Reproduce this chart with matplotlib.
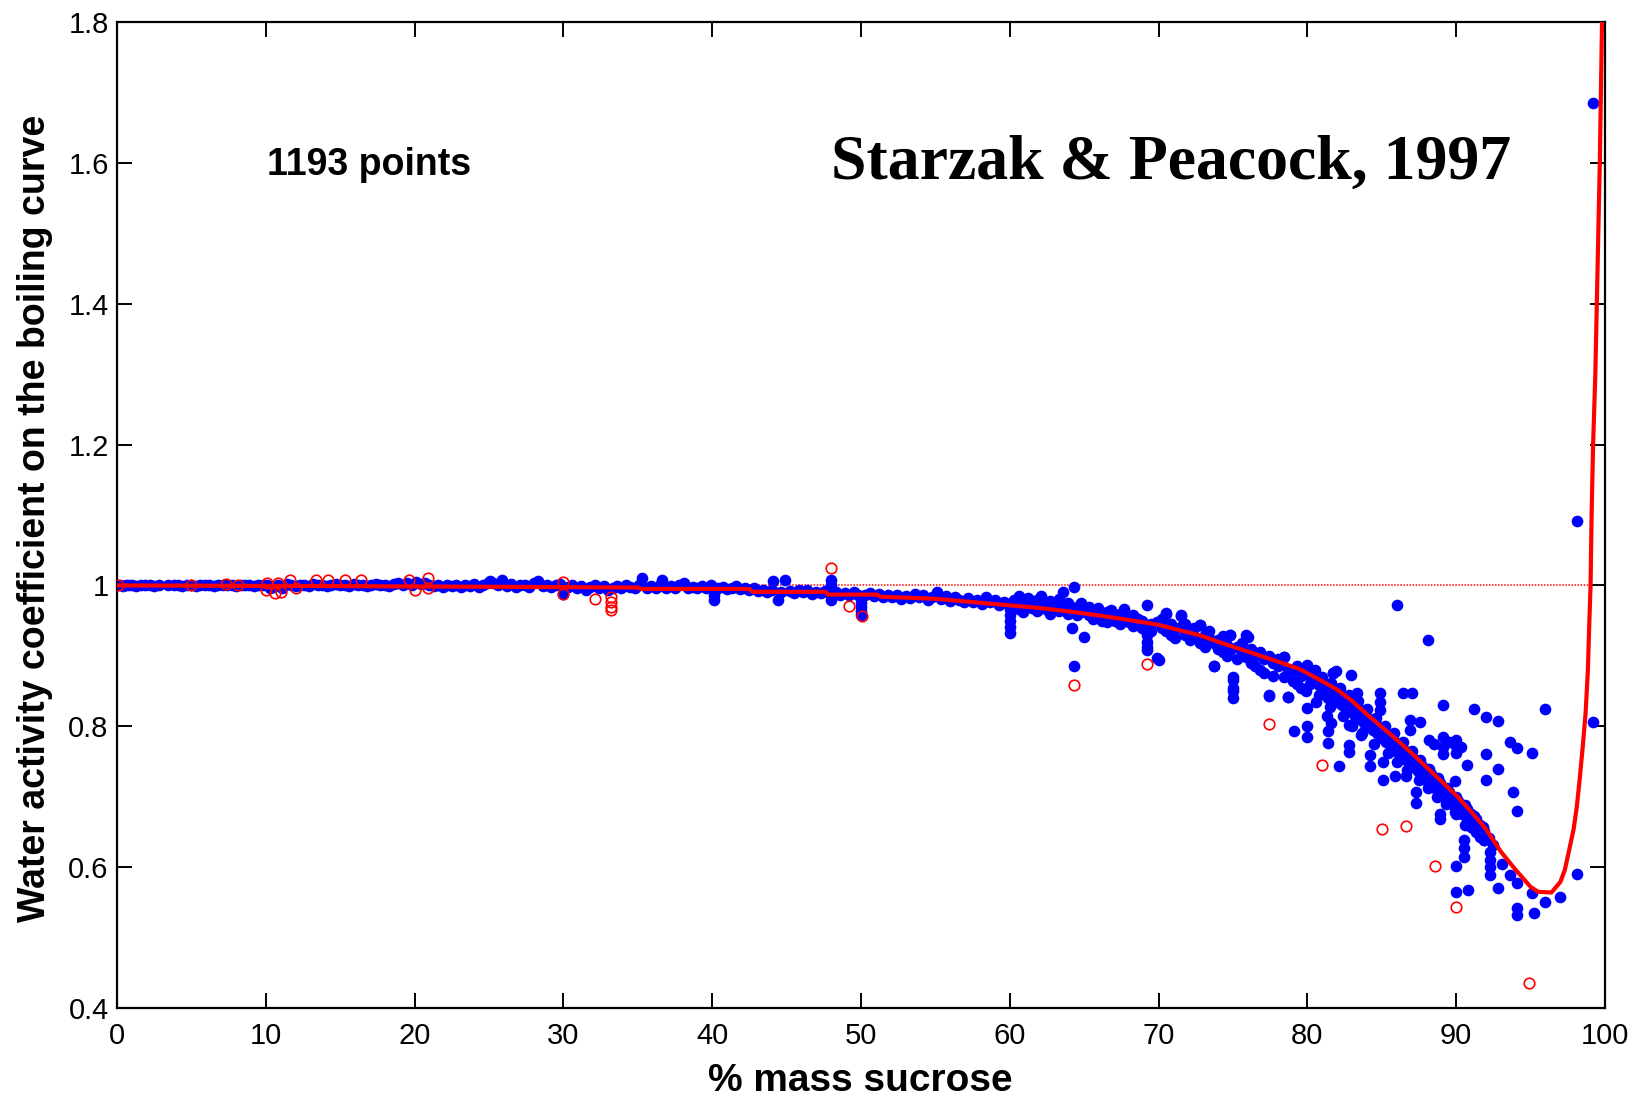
import matplotlib
matplotlib.use("Agg")
import matplotlib.pyplot as plt
from matplotlib.ticker import FixedLocator, FixedFormatter

# ---------------------------------------------------------------------------
# Model curve (Starzak & Peacock correlation on the boiling curve)
curve_sucrose = [0, 15, 26, 35, 35.2, 42.5, 42.7, 47.6, 47.8, 51.1, 51.3, 55,
                 59.3, 62, 64, 66.1, 68, 70, 72.8, 74, 76, 78, 79.5, 81, 82,
                 83, 84, 85, 86, 87, 88, 89, 90, 91, 92, 93, 94, 95, 95.5,
                 96.4, 97.0, 97.3, 97.6, 97.9, 98.1, 98.3, 98.5, 98.7, 98.85,
                 98.95, 99.03, 99.1, 99.2, 99.35, 99.5, 99.65, 99.8, 99.9]
curve_gamma = [1.0, 0.999, 0.998, 0.997, 0.995, 0.995, 0.991, 0.991, 0.987,
               0.987, 0.984, 0.981, 0.973, 0.968, 0.963, 0.957, 0.951, 0.944,
               0.929, 0.92, 0.906, 0.892, 0.881, 0.864, 0.852, 0.836, 0.817,
               0.799, 0.781, 0.762, 0.742, 0.722, 0.702, 0.679, 0.654, 0.622,
               0.596, 0.572, 0.565, 0.564, 0.579, 0.596, 0.625, 0.655, 0.685,
               0.725, 0.77, 0.82, 0.88, 0.95, 1.0, 1.1, 1.2, 1.3, 1.45, 1.6,
               1.8, 2.0]

# ---------------------------------------------------------------------------
# Experimental points (blue), dilute range 0-21 %
dilute_x = [0.0, 0.2, 0.4, 0.6, 0.8, 1.0, 1.3, 1.6, 1.9, 2.2, 2.5, 2.8,
            3.4, 3.8, 4.1, 4.4, 4.7, 5.0, 5.3, 5.6, 5.9, 6.2, 6.5, 6.8,
            7.1, 7.4, 7.7, 8.0, 8.3, 8.6, 8.9, 9.2, 9.5, 9.8, 10.1, 10.3,
            10.5, 10.8, 11.1, 11.4, 11.7, 12.0, 12.3, 12.6, 12.9, 13.2, 13.5, 13.8,
            14.1, 14.4, 14.7, 15.0, 15.3, 15.6, 15.9, 16.2, 16.5, 16.8, 17.1, 17.4,
            17.7, 18.0, 18.3, 18.6, 18.9, 19.2, 19.5, 19.8, 20.1, 20.4, 20.7, 21.0]
dilute_y = [1.000, 1.001, 0.999, 1.000, 1.000, 1.001, 0.999, 1.000, 1.000, 1.001, 0.999, 1.000,
            1.000, 1.000, 1.001, 0.999, 1.000, 1.000, 0.999, 1.001, 1.000, 1.000, 0.999, 1.001,
            1.000, 1.000, 1.001, 0.999, 1.000, 1.000, 1.001, 0.999, 1.000, 1.000, 1.001, 0.996,
            0.998, 1.000, 0.997, 1.002, 1.000, 0.999, 1.001, 1.000, 0.999, 1.002, 1.001, 1.000,
            0.999, 1.001, 1.002, 1.000, 1.001, 0.999, 1.002, 1.000, 1.001, 0.999, 1.000, 1.002,
            1.001, 1.000, 0.999, 1.002, 1.004, 1.001, 1.003, 1.000, 1.005, 1.002, 1.004, 1.001]

# 21-43 %
low_x = [21.3, 21.6, 21.9, 22.2, 22.5, 22.8, 23.1, 23.4, 23.7, 24.0, 24.3, 24.6,
         24.9, 25.1, 25.3, 25.6, 25.9, 26.2, 26.5, 26.8, 27.1, 27.4, 27.7, 28.0,
         28.3, 28.6, 28.9, 29.2, 29.5, 29.8, 30.0, 30.3, 30.6, 30.9, 31.2, 31.5,
         31.8, 32.1, 32.4, 32.7, 33.0, 33.3, 33.6, 33.9, 34.2, 34.5, 34.8, 35.1,
         35.3, 35.6, 35.9, 36.2, 36.5, 36.6, 36.9, 37.2, 37.5, 37.8, 38.1, 38.4,
         38.7, 39.0, 39.3, 39.6, 39.9, 40.1, 40.1, 40.1, 40.4, 40.7, 41.0, 41.3,
         41.6, 41.9, 42.2, 42.5, 42.8]
low_y = [0.999, 1.001, 0.998, 1.000, 0.999, 1.001, 0.998, 1.000, 0.999, 1.002, 0.998, 1.000,
         1.003, 1.006, 1.004, 1.000, 1.007, 0.999, 1.002, 0.998, 1.000, 1.001, 0.998, 1.003,
         1.006, 0.999, 1.001, 0.998, 1.000, 1.002, 0.988, 0.998, 1.000, 0.997, 0.999, 0.994,
         0.998, 1.000, 0.997, 0.999, 0.993, 0.996, 0.999, 0.997, 1.000, 0.998, 0.996, 1.000,
         1.010, 0.997, 0.999, 0.996, 1.000, 1.008, 0.997, 0.999, 0.996, 1.000, 1.004, 0.997,
         0.998, 0.996, 0.999, 0.997, 1.000, 0.993, 0.986, 0.979, 0.996, 0.998, 0.995, 0.997,
         0.999, 0.995, 0.997, 0.994, 0.996]

# 43-60 %
mid_x = [43.1, 43.4, 43.7, 44.0, 44.1, 44.4, 44.6, 44.9, 45.2, 45.5, 45.8, 46.1,
         46.4, 46.7, 47.0, 47.3, 47.6, 47.9, 48.0, 48.0, 48.0, 48.0, 48.3, 48.6,
         48.9, 49.2, 49.5, 49.8, 50.0, 50.0, 50.0, 50.0, 50.3, 50.6, 50.9, 51.2,
         51.5, 51.8, 52.1, 52.4, 52.7, 53.0, 53.3, 53.6, 53.9, 54.2, 54.5, 54.8,
         55.1, 55.4, 55.7, 56.0, 56.3, 56.6, 56.9, 57.2, 57.5, 57.8, 58.1, 58.4,
         58.7, 59.0, 59.3, 59.6, 59.9, 60.0, 60.0, 60.0, 60.0, 60.0]
mid_y = [0.992, 0.994, 0.990, 0.993, 1.006, 0.980, 0.991, 1.007, 0.992, 0.989, 0.993, 0.990,
         0.994, 0.988, 0.991, 0.989, 0.992, 0.995, 1.007, 1.001, 0.986, 0.979, 0.990, 0.987,
         0.989, 0.986, 0.990, 0.987, 0.975, 0.969, 0.963, 0.958, 0.986, 0.989, 0.985, 0.988,
         0.984, 0.987, 0.983, 0.986, 0.981, 0.985, 0.982, 0.988, 0.983, 0.986, 0.980, 0.984,
         0.990, 0.981, 0.985, 0.978, 0.983, 0.980, 0.976, 0.982, 0.977, 0.979, 0.974, 0.984,
         0.976, 0.979, 0.972, 0.977, 0.974, 0.966, 0.958, 0.950, 0.941, 0.932]

# 60-80 %
conc_x = [60.3, 60.3, 60.6, 60.6, 60.9, 60.9, 61.2, 61.2, 61.5, 61.5,
          61.8, 61.8, 62.1, 62.1, 62.4, 62.4, 62.7, 62.7, 63.0, 63.0,
          63.3, 63.3, 63.6, 63.6, 63.9, 63.9, 64.2, 64.2, 64.3, 64.3,
          64.5, 64.5, 64.8, 64.8, 65.0, 65.0, 65.3, 65.3, 65.6, 65.6,
          65.9, 65.9, 66.2, 66.2, 66.5, 66.5, 66.8, 66.8, 67.1, 67.1,
          67.4, 67.4, 67.7, 67.7, 68.0, 68.0, 68.3, 68.3, 68.6, 68.6,
          68.9, 68.9, 69.2, 69.2, 69.2, 69.2, 69.2, 69.5, 69.5, 69.9,
          69.9, 70.2, 70.2, 70.5, 70.5, 70.8, 70.8, 71.1, 71.1, 71.5,
          71.5, 71.8, 71.8, 72.1, 72.1, 72.4, 72.4, 72.8, 72.8, 73.1,
          73.1, 73.4, 73.4, 73.7, 73.7, 74.0, 74.0, 74.3, 74.3, 74.6,
          74.6, 74.8, 74.8, 75.0, 75.0, 75.0, 75.3, 75.3, 75.6, 75.6,
          75.9, 75.9, 76.2, 76.2, 76.5, 76.5, 76.8, 76.8, 77.1, 77.1,
          77.4, 77.4, 77.7, 77.7, 78.0, 78.0, 78.4, 78.4, 78.7, 78.7,
          79.0, 79.0, 79.3, 79.3, 79.6, 79.6, 79.9, 79.9]
conc_y = [0.980, 0.970, 0.985, 0.966, 0.978, 0.962, 0.975, 0.982, 0.968, 0.972,
          0.980, 0.963, 0.974, 0.985, 0.966, 0.970, 0.978, 0.960, 0.972, 0.967,
          0.981, 0.964, 0.990, 0.968, 0.975, 0.960, 0.965, 0.940, 0.998, 0.885,
          0.970, 0.958, 0.962, 0.975, 0.927, 0.966, 0.958, 0.970, 0.962, 0.952,
          0.968, 0.955, 0.958, 0.950, 0.962, 0.948, 0.955, 0.965, 0.950, 0.958,
          0.960, 0.945, 0.952, 0.966, 0.948, 0.956, 0.958, 0.942, 0.945, 0.953,
          0.950, 0.940, 0.972, 0.919, 0.913, 0.908, 0.930, 0.945, 0.935, 0.897,
          0.948, 0.940, 0.952, 0.961, 0.936, 0.945, 0.930, 0.938, 0.925, 0.956,
          0.941, 0.930, 0.945, 0.935, 0.922, 0.940, 0.928, 0.944, 0.918, 0.930,
          0.912, 0.925, 0.935, 0.885, 0.918, 0.922, 0.910, 0.928, 0.905, 0.915,
          0.900, 0.930, 0.908, 0.870, 0.855, 0.840, 0.912, 0.895, 0.905, 0.918,
          0.930, 0.898, 0.910, 0.890, 0.900, 0.885, 0.905, 0.880, 0.895, 0.875,
          0.844, 0.900, 0.890, 0.872, 0.885, 0.895, 0.899, 0.870, 0.842, 0.880,
          0.878, 0.865, 0.885, 0.860, 0.872, 0.855, 0.880, 0.850]

# 80-93 %, main band
high_x = [80.2, 80.2, 80.5, 80.5, 80.8, 80.8, 81.1, 81.1, 81.4, 81.4,
          81.7, 81.7, 82.0, 82.0, 82.3, 82.3, 82.6, 82.6, 82.9, 82.9,
          83.2, 83.2, 83.5, 83.5, 83.8, 83.8, 84.1, 84.1, 84.4, 84.4,
          84.7, 84.7, 85.0, 85.0, 85.3, 85.3, 85.6, 85.6, 85.9, 85.9,
          86.2, 86.2, 86.5, 86.5, 86.8, 86.8, 87.1, 87.1, 87.4, 87.4,
          87.7, 87.7, 88.0, 88.0, 88.3, 88.3, 88.6, 88.6, 88.9, 88.9,
          89.2, 89.2, 89.5, 89.5, 89.8, 89.8, 90.1, 90.1, 90.4, 90.4,
          90.7, 90.7, 91.0, 91.0, 91.3, 91.3, 91.6, 91.6, 91.9, 91.9,
          92.2, 92.5]
high_y = [0.872, 0.860, 0.865, 0.880, 0.858, 0.845, 0.862, 0.850, 0.852, 0.840,
          0.876, 0.845, 0.848, 0.835, 0.842, 0.830, 0.838, 0.825, 0.873, 0.820,
          0.830, 0.815, 0.824, 0.810, 0.818, 0.805, 0.812, 0.800, 0.806, 0.795,
          0.800, 0.790, 0.795, 0.783, 0.790, 0.778, 0.785, 0.770, 0.778, 0.765,
          0.772, 0.760, 0.766, 0.754, 0.760, 0.748, 0.755, 0.742, 0.750, 0.736,
          0.744, 0.730, 0.738, 0.724, 0.732, 0.718, 0.726, 0.712, 0.719, 0.706,
          0.713, 0.700, 0.706, 0.694, 0.700, 0.688, 0.694, 0.682, 0.688, 0.676,
          0.682, 0.670, 0.676, 0.657, 0.668, 0.650, 0.660, 0.643, 0.652, 0.639,
          0.642, 0.632]

# 80-92 %, points just above and well below the main band
band_edge_x = [80.4, 81.0, 81.6, 82.2, 82.8, 83.4, 84.0, 84.6, 85.2, 85.8,
               86.4, 87.0, 87.6, 88.2, 88.8, 89.4, 90.0, 90.6, 91.2, 91.8,
               80.6, 81.5, 82.4, 83.0, 83.7, 84.5, 85.4, 86.0, 86.7, 87.5,
               88.1, 88.7, 89.3, 89.9, 90.6]
band_edge_y = [0.878, 0.870, 0.862, 0.855, 0.845, 0.836, 0.825, 0.812, 0.800, 0.790,
               0.778, 0.765, 0.752, 0.740, 0.726, 0.713, 0.700, 0.688, 0.672, 0.657,
               0.835, 0.828, 0.815, 0.800, 0.790, 0.775, 0.762, 0.750, 0.738, 0.724,
               0.712, 0.700, 0.690, 0.678, 0.660]

# scattered points, 70-100 %
spread_x = [86.0, 88.1, 89.1, 91.2, 92.0, 92.8, 96.0, 93.6, 94.1, 95.1,
            92.8, 92.0, 93.8, 94.1, 92.0, 90.7, 90.0, 90.0, 90.0, 89.1,
            89.1, 88.2, 86.9, 86.9, 87.6, 84.9, 84.9, 84.9, 86.4, 87.0,
            81.9, 83.3, 79.1, 80.0, 80.0, 81.4, 81.4, 82.8, 82.8, 82.8,
            82.1, 84.2, 84.2, 85.1, 85.1, 85.9, 86.6, 87.3, 87.3, 88.9,
            88.9, 90.0, 90.5, 90.5, 90.5, 90.0, 90.0, 90.8, 92.3, 92.3,
            92.3, 92.3, 92.8, 93.1, 93.6, 94.1, 94.1, 94.1, 95.2, 95.1,
            96.0, 97.0, 98.1, 91.1, 91.6, 91.9, 89.9, 89.1, 70.5, 71.5,
            71.5, 72.8, 74.8, 76.0, 78.4, 80.0, 81.7, 70.0, 73.7, 75.0,
            75.0, 77.4, 78.7, 80.0, 81.3, 81.6, 83.6, 98.1, 99.2, 99.2,
            88.5, 89.5, 90.3]
spread_y = [0.972, 0.923, 0.830, 0.824, 0.813, 0.807, 0.824, 0.778, 0.769, 0.762,
            0.739, 0.724, 0.707, 0.680, 0.760, 0.745, 0.781, 0.772, 0.762, 0.785,
            0.771, 0.781, 0.809, 0.795, 0.806, 0.847, 0.835, 0.823, 0.847, 0.847,
            0.878, 0.847, 0.793, 0.800, 0.785, 0.793, 0.776, 0.802, 0.774, 0.764,
            0.743, 0.759, 0.743, 0.750, 0.724, 0.729, 0.729, 0.707, 0.691, 0.676,
            0.669, 0.676, 0.639, 0.627, 0.615, 0.602, 0.564, 0.568, 0.622, 0.610,
            0.600, 0.589, 0.571, 0.605, 0.589, 0.578, 0.542, 0.532, 0.535, 0.563,
            0.551, 0.557, 0.590, 0.655, 0.648, 0.639, 0.722, 0.760, 0.960, 0.958,
            0.941, 0.944, 0.930, 0.927, 0.899, 0.887, 0.876, 0.894, 0.885, 0.866,
            0.850, 0.843, 0.842, 0.826, 0.814, 0.804, 0.788, 1.091, 1.685, 0.806,
            0.775, 0.778, 0.770]

# Excluded data (red open circles)
excluded_x = [0.1, 5.0, 7.3, 8.1, 10.0, 10.1, 10.6, 10.8, 11.0, 11.6,
              12.0, 13.4, 14.2, 15.3, 16.4, 19.6, 20.0, 20.9, 20.9, 30.0,
              30.0, 32.1, 33.2, 33.2, 33.2, 33.2, 48.0, 49.2, 50.1, 64.3,
              69.2, 77.4, 81.0, 85.0, 86.6, 88.6, 90.0, 94.9]
excluded_y = [1.0, 1.0, 1.002, 1.0, 0.993, 1.003, 0.989, 1.003, 0.991, 1.008,
              0.996, 1.008, 1.008, 1.007, 1.008, 1.008, 0.993, 1.010, 0.996, 1.005,
              0.988, 0.981, 0.984, 0.977, 0.970, 0.965, 1.025, 0.971, 0.956, 0.859,
              0.888, 0.803, 0.745, 0.654, 0.659, 0.602, 0.544, 0.435]

x_ticks = [0, 10, 20, 30, 40, 50, 60, 70, 80, 90, 100]
y_ticks = [0.4, 0.6, 0.8, 1.0, 1.2, 1.4, 1.6, 1.8]
y_tick_labels = ["0.4", "0.6", "0.8", "1", "1.2", "1.4", "1.6", "1.8"]

# ---------------------------------------------------------------------------
sans = ["Liberation Sans", "DejaVu Sans"]
serif = ["Liberation Serif", "DejaVu Serif"]
plt.rcParams["font.family"] = sans

W, H = 1644, 1102
fig = plt.figure(figsize=(W / 100, H / 100), dpi=100)
left, right, top, bottom = 117, 1605, 22, 1008
ax = fig.add_axes([left / W, 1 - bottom / H, (right - left) / W, (bottom - top) / H])

ax.axhline(1.0, color="red", lw=1.1, ls=(0, (1, 1)), zorder=1)

blue_x = dilute_x + low_x + mid_x + conc_x + high_x + band_edge_x + spread_x
blue_y = dilute_y + low_y + mid_y + conc_y + high_y + band_edge_y + spread_y
ax.plot(blue_x, blue_y, ls="none", marker="o", ms=8.4, mew=0,
        color=(0, 0, 1), zorder=2)
ax.plot(excluded_x, excluded_y, ls="none", marker="o", ms=7.6, mfc="none",
        mec="red", mew=1.2, zorder=3)
ax.plot(curve_sucrose, curve_gamma, color="red", lw=3.0, zorder=4,
        solid_joinstyle="round")

ax.set_xlim(0, 100)
ax.set_ylim(0.4, 1.8)
ax.xaxis.set_major_locator(FixedLocator(x_ticks))
ax.yaxis.set_major_locator(FixedLocator(y_ticks))
ax.yaxis.set_major_formatter(FixedFormatter(y_tick_labels))
ax.tick_params(direction="in", length=11, width=1.4, top=True, right=True,
               labelsize=21, colors="black")
ax.tick_params(axis="x", pad=10)
ax.tick_params(axis="y", pad=6)
for sp in ax.spines.values():
    sp.set_linewidth(1.6)

ax.text(10.1, 1.597, "1193 points", fontsize=27, fontweight="bold",
        family=sans, ha="left", va="center")
ax.text(48.0, 1.578, "Starzak & Peacock, 1997", fontsize=46,
        fontweight="bold", family=serif, ha="left", va="baseline")

fig.text(860 / W, 1 - 1081 / H, "% mass sucrose", fontsize=28,
         fontweight="bold", ha="center", va="center")
fig.text(35 / W, 1 - 518 / H, "Water activity coefficient on the boiling curve",
         fontsize=27, fontweight="bold", rotation=90, ha="center", va="center")

fig.savefig("out.png", dpi=100)
